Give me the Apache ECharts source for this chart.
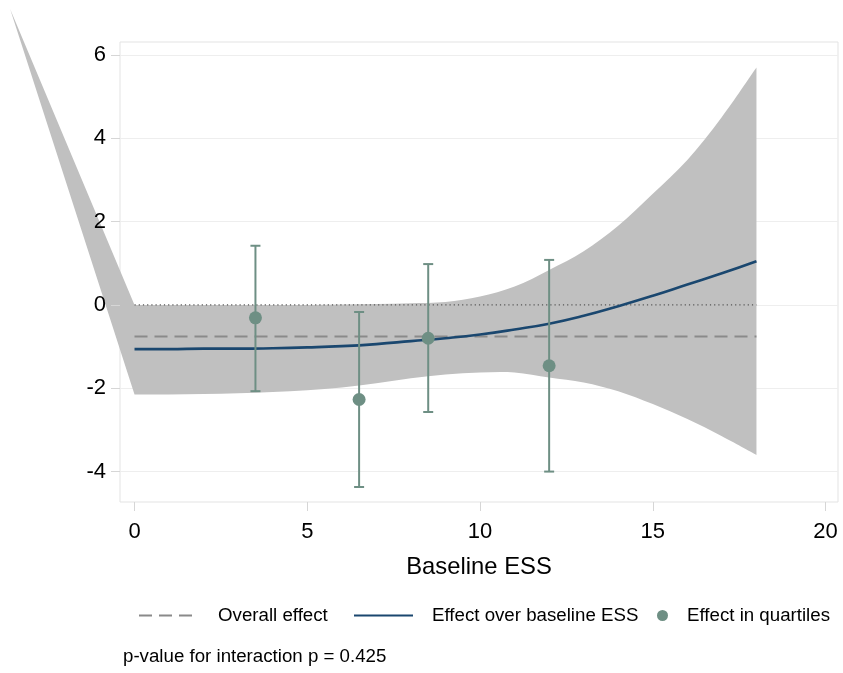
<!DOCTYPE html>
<html>
<head>
<meta charset="utf-8">
<script src="https://cdn.jsdelivr.net/npm/echarts@6/dist/echarts.min.js"></script>
<style>
  html, body { margin: 0; padding: 0; background: #ffffff; }
  #chart { width: 843px; height: 673px; }
</style>
</head>
<body>
<div id="chart"></div>
<script>
// Baseline ESS grid on which the treatment effect was evaluated
const essGrid = [0, 1, 2, 3, 4, 5, 6, 7, 8, 9, 10, 11, 12, 13, 14, 15, 16, 17, 18];
// Estimated effect over baseline ESS and its confidence band
const effectCurve = [-1.06, -1.06, -1.05, -1.05, -1.04, -1.02, -0.99, -0.94, -0.87, -0.80, -0.71, -0.59, -0.45, -0.26, -0.03, 0.22, 0.49, 0.76, 1.05];
const ciUpper = [0.00, 0.00, 0.00, 0.00, 0.00, 0.00, 0.01, 0.02, 0.04, 0.07, 0.20, 0.44, 0.84, 1.29, 1.90, 2.67, 3.48, 4.51, 5.70];
const ciLower = [-2.15, -2.15, -2.14, -2.12, -2.09, -2.05, -1.98, -1.88, -1.76, -1.67, -1.62, -1.62, -1.74, -1.86, -2.07, -2.38, -2.74, -3.15, -3.60];
// Stray first vertex of the band polygon
const ciTail = [-3.6, 7.1];

// Effects within quartiles of baseline ESS
const quartileX = [3.5, 6.5, 8.5, 12];
const quartileEffect = [-0.31, -2.27, -0.80, -1.46];
const quartileLo = [-2.07, -4.37, -2.57, -4.00];
const quartileHi = [1.42, -0.17, 0.98, 1.08];

// Overall treatment effect
const overallEffect = -0.76;

// Axis ticks and ranges
const xTicks = [0, 5, 10, 15, 20];
const yTicks = [-4, -2, 0, 2, 4, 6];
const xRange = [-0.42, 20.36];
const yRange = [-4.73, 6.31];

const FONT = '"Liberation Sans", Arial, Helvetica, sans-serif';
const BAND = '#c0c0c0';
const NAVY = '#1a476f';
const SEA = '#6e8f84';
const DASH_GRAY = '#8a8a8a';

const chart = echarts.init(document.getElementById('chart'), null, { renderer: 'canvas' });

const lastX = essGrid[essGrid.length - 1];

// Cubic (Catmull-Rom) segments through pixel points, continuing an open path
function curveThrough(pts) {
  let d = '';
  const n = pts.length;
  for (let i = 0; i < n - 1; i++) {
    const p0 = pts[Math.max(i - 1, 0)];
    const p1 = pts[i];
    const p2 = pts[i + 1];
    const p3 = pts[Math.min(i + 2, n - 1)];
    const c1x = p1[0] + (p2[0] - p0[0]) / 6;
    const c1y = p1[1] + (p2[1] - p0[1]) / 6;
    const c2x = p2[0] - (p3[0] - p1[0]) / 6;
    const c2y = p2[1] - (p3[1] - p1[1]) / 6;
    d += ' C' + c1x + ',' + c1y + ' ' + c2x + ',' + c2y + ' ' + p2[0] + ',' + p2[1];
  }
  return d;
}

const option = {
  animation: false,
  backgroundColor: '#ffffff',
  textStyle: { fontFamily: FONT },
  title: {
    text: 'p-value for interaction p = 0.425',
    left: 123,
    top: 647,
    padding: 0,
    textStyle: { fontSize: 18.7, fontWeight: 'normal', color: '#000', fontFamily: FONT }
  },
  grid: {
    left: 120, top: 42, width: 718, height: 460,
    show: true, borderColor: '#e3e3e3', borderWidth: 1, backgroundColor: '#ffffff'
  },
  xAxis: {
    type: 'value',
    position: 'bottom',
    min: xRange[0], max: xRange[1],
    axisLine: { show: false, onZero: false },
    axisTick: { show: true, customValues: xTicks, length: 9, lineStyle: { color: '#d6d6d6', width: 1 } },
    axisLabel: { customValues: xTicks, fontSize: 22, color: '#000', margin: 19, fontFamily: FONT },
    splitLine: { show: false },
    name: 'Baseline ESS',
    nameLocation: 'middle',
    nameGap: 53,
    nameTextStyle: { fontSize: 23.8, color: '#000', fontFamily: FONT }
  },
  yAxis: [
    {
      type: 'value',
      min: yRange[0], max: yRange[1],
      axisLine: { show: false, onZero: false },
      axisTick: { show: false, customValues: yTicks },
      axisLabel: { show: false, customValues: yTicks },
      splitLine: { show: true, lineStyle: { color: '#eeeeee', width: 1 } },
      z: 0
    },
    {
      type: 'value',
      min: yRange[0], max: yRange[1],
      position: 'left',
      axisLine: { show: false, onZero: false },
      axisTick: { show: true, customValues: yTicks, length: 9, lineStyle: { color: '#d6d6d6', width: 1 } },
      axisLabel: { customValues: yTicks, fontSize: 22, color: '#000', margin: 14, fontFamily: FONT },
      splitLine: { show: false },
      z: 5
    }
  ],
  legend: [
    {
      data: ['Overall effect'],
      left: 138, top: 606, padding: 0,
      itemWidth: 54, itemHeight: 18,
      selectedMode: false,
      itemStyle: { opacity: 0 },
      textStyle: { fontSize: 18.7, color: '#000', fontFamily: FONT, padding: [0, 0, 0, 20] }
    },
    {
      data: ['Effect over baseline ESS'],
      left: 353, top: 606, padding: 0,
      itemWidth: 59, itemHeight: 18,
      selectedMode: false,
      itemStyle: { opacity: 0 },
      textStyle: { fontSize: 18.7, color: '#000', fontFamily: FONT, padding: [0, 0, 0, 14] }
    },
    {
      data: [{ name: 'Effect in quartiles', icon: 'circle' }],
      left: 657, top: 606, padding: 0,
      itemWidth: 11, itemHeight: 18,
      selectedMode: false,
      textStyle: { fontSize: 18.7, color: '#000', fontFamily: FONT, padding: [0, 0, 0, 14] }
    }
  ],
  series: [
    // Confidence band polygon (starting from its stray leading vertex), drawn unclipped
    {
      name: 'ci',
      type: 'custom',
      clip: false,
      silent: true,
      z: 1,
      data: [[essGrid[0], ciUpper[0]]],
      encode: { x: 0, y: 1 },
      renderItem: (params, api) => {
        const tail = api.coord(ciTail);
        const up = essGrid.map((x, i) => api.coord([x, ciUpper[i]]));
        const lo = essGrid.map((x, i) => api.coord([x, ciLower[i]])).reverse();
        const d = 'M' + tail[0] + ',' + tail[1] +
          ' L' + up[0][0] + ',' + up[0][1] + curveThrough(up) +
          ' L' + lo[0][0] + ',' + lo[0][1] + curveThrough(lo) + ' Z';
        return { type: 'path', shape: { pathData: d }, style: { fill: BAND, stroke: null } };
      }
    },
    // Reference line at zero
    {
      name: 'zero',
      type: 'line',
      symbol: 'none',
      silent: true,
      z: 3,
      lineStyle: { color: '#555555', width: 1.2, type: [1.2, 3] },
      data: [[essGrid[0], 0], [lastX, 0]]
    },
    {
      name: 'Overall effect',
      type: 'line',
      symbol: 'none',
      z: 3,
      color: DASH_GRAY,
      lineStyle: { color: DASH_GRAY, width: 2, type: [13, 7] },
      data: [[essGrid[0], overallEffect], [lastX, overallEffect]]
    },
    {
      name: 'Effect over baseline ESS',
      type: 'line',
      symbol: 'none',
      smooth: true,
      z: 4,
      color: NAVY,
      lineStyle: { color: NAVY, width: 2.6 },
      data: essGrid.map((x, i) => [x, effectCurve[i]])
    },
    // Confidence intervals of the quartile effects
    {
      name: 'quartileCI',
      type: 'custom',
      clip: false,
      silent: true,
      z: 5,
      data: quartileX.map((x, i) => [x, quartileLo[i], quartileHi[i]]),
      encode: { x: 0, y: [1, 2] },
      renderItem: (params, api) => {
        const x = api.value(0);
        const lo = api.coord([x, api.value(1)]);
        const hi = api.coord([x, api.value(2)]);
        const cap = 5;
        const style = { stroke: SEA, lineWidth: 2 };
        return {
          type: 'group',
          children: [
            { type: 'line', shape: { x1: lo[0], y1: lo[1], x2: hi[0], y2: hi[1] }, style },
            { type: 'line', shape: { x1: lo[0] - cap, y1: lo[1], x2: lo[0] + cap, y2: lo[1] }, style },
            { type: 'line', shape: { x1: hi[0] - cap, y1: hi[1], x2: hi[0] + cap, y2: hi[1] }, style }
          ]
        };
      }
    },
    {
      name: 'Effect in quartiles',
      type: 'scatter',
      symbol: 'circle',
      symbolSize: 13,
      z: 6,
      color: SEA,
      itemStyle: { color: SEA, opacity: 1 },
      data: quartileX.map((x, i) => [x, quartileEffect[i]])
    }
  ]
};

chart.setOption(option);
</script>
</body>
</html>
